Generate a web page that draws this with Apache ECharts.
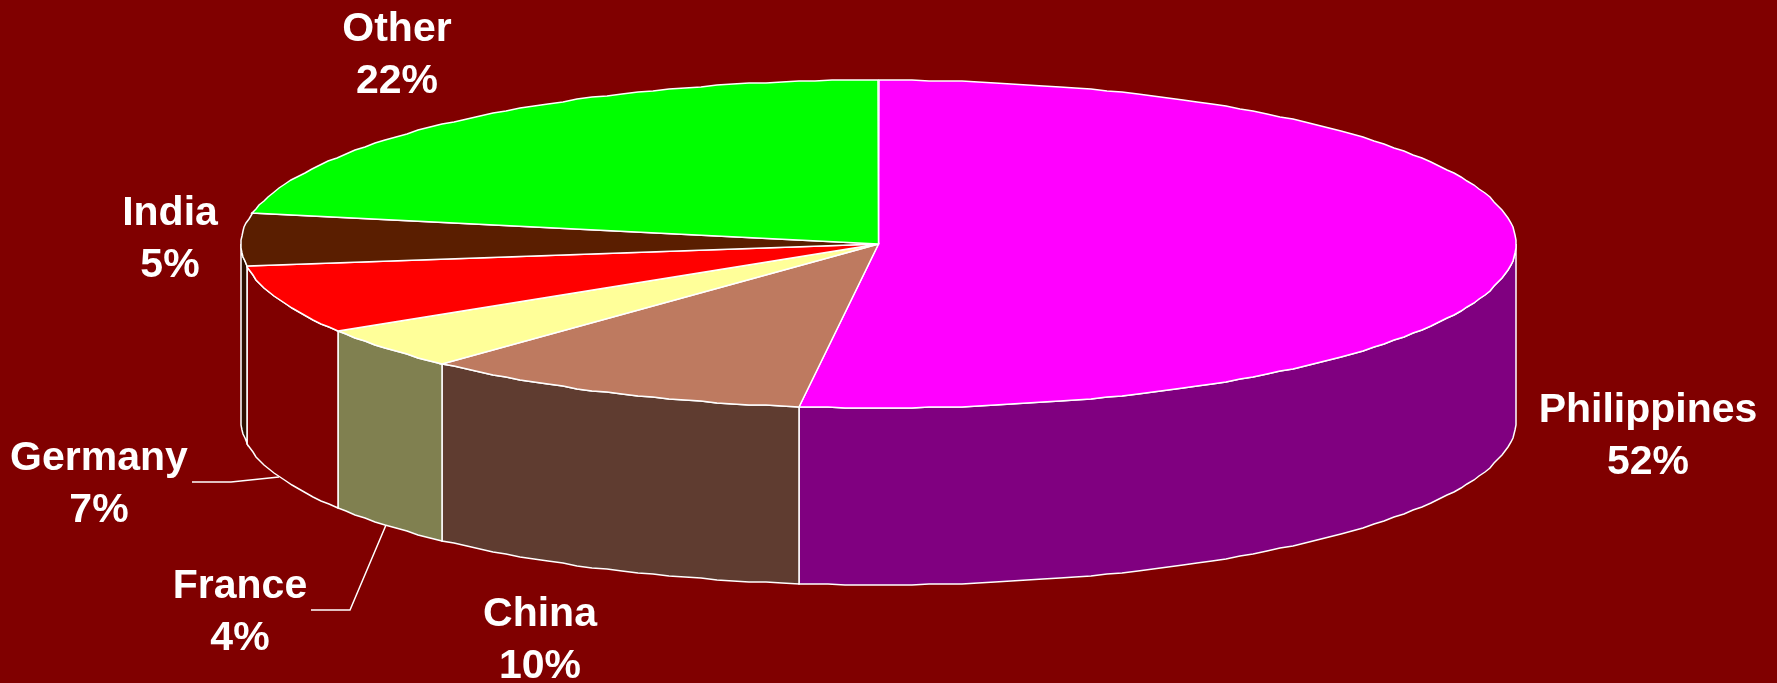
<!DOCTYPE html>
<html>
<head>
<meta charset="utf-8">
<title>Share by country</title>
<style>
    html, body { margin: 0; padding: 0; background: #800000; }
    #main { width: 1777px; height: 683px; }
</style>
<script src="https://cdn.jsdelivr.net/npm/echarts@6/dist/echarts.min.js"></script>
</head>
<body>
<div id="main"></div>
<script>
// chart data, clockwise from 12 o'clock (labels show them rounded)
var countries = ['Philippines', 'China', 'France', 'Germany', 'India', 'Other'];
var shares = [52, 10, 4.1, 6.8, 5.1, 22];

var topColors = ['#FF00FF', '#BE7A60', '#FFFF99', '#FF0000', '#5A1E00', '#00FF00'];
var wallColors = ['#800080', '#5F3C30', '#808050', '#7F0000', '#2D0F00', '#008000'];

// layout of the disc in pixels
var cx = 878.5, cy = 244, rx = 637.5, ry = 164, depth = 177;
var step = 1.5;

// label centres
var labelPos = [[1648, 437], [540, 641], [240, 613], [99, 485], [170, 240], [397, 56]];
// leader lines: elbow points, the last point sits on the rim of the slice
var leaders = { 2: [[311, 610], [350, 610]], 3: [[192, 482], [231, 482]] };

var total = shares.reduce(function (a, b) { return a + b; }, 0);

function startAngle(i) {
    var sum = 0;
    for (var k = 0; k < i; k++) sum += shares[k];
    return sum / total * 360;
}

function rimPoint(deg, dy) {
    var r = deg * Math.PI / 180;
    return [Math.round(cx + rx * Math.sin(r)), Math.round(cy - ry * Math.cos(r) + (dy || 0))];
}

function arc(a0, a1, dy) {
    var pts = [];
    for (var a = a0; a < a1; a += step) pts.push(rimPoint(a, dy));
    pts.push(rimPoint(a1, dy));
    return pts;
}

function renderWall(params) {
    var i = params.dataIndex;
    // only the front half of the disc shows its side
    var a0 = Math.max(startAngle(i), 90);
    var a1 = Math.min(startAngle(i + 1), 270);
    if (a1 <= a0) return null;
    return {
        type: 'polygon',
        shape: { points: arc(a0, a1, 0).concat(arc(a0, a1, depth).reverse()) },
        style: { fill: wallColors[i], stroke: '#fff', lineWidth: 1.5 }
    };
}

function renderTop(params) {
    var i = params.dataIndex;
    return {
        type: 'polygon',
        shape: { points: [[cx, cy]].concat(arc(startAngle(i), startAngle(i + 1), 0)) },
        style: { fill: topColors[i], stroke: '#fff', lineWidth: 1.5 }
    };
}

function renderLabel(params, api) {
    var i = params.dataIndex;
    var children = [{
        type: 'text',
        style: {
            x: labelPos[i][0],
            y: labelPos[i][1],
            text: countries[i] + '\n' + Math.round(api.value(0)) + '%',
            fill: '#fff',
            font: 'bold 41px "Liberation Sans", Arial, sans-serif',
            lineHeight: 52,
            align: 'center',
            verticalAlign: 'middle'
        }
    }];
    if (leaders[i]) {
        var mid = (startAngle(i) + startAngle(i + 1)) / 2;
        children.push({
            type: 'polyline',
            shape: { points: leaders[i].concat([rimPoint(mid, depth)]) },
            style: { fill: 'none', stroke: '#fff', lineWidth: 1.5 }
        });
    }
    return { type: 'group', children: children };
}

var myChart = echarts.init(document.getElementById('main'));

var option = {
    backgroundColor: '#800000',
    animation: false,
    series: [
        { type: 'custom', coordinateSystem: 'none', silent: true, z: 1, data: shares, renderItem: renderWall },
        { type: 'custom', coordinateSystem: 'none', silent: true, z: 2, data: shares, renderItem: renderTop },
        { type: 'custom', coordinateSystem: 'none', silent: true, z: 3, data: shares, renderItem: renderLabel }
    ]
};

myChart.setOption(option);
</script>
</body>
</html>
